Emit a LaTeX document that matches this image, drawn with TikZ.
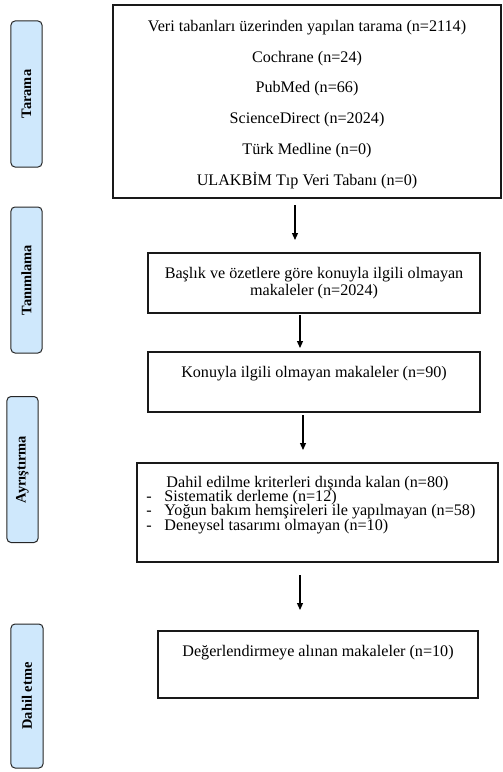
\documentclass[tikz,border=0pt]{standalone}
\usepackage{fontspec}
\setmainfont{Liberation Serif}
\usepackage{xcolor}
\usepackage{tikz}
\usetikzlibrary{positioning,arrows.meta}

\definecolor{stagefill}{RGB}{207,232,252}
\newcommand\tightlines{\setlength{\lineskiplimit}{-20bp}}

\tikzset{
    stage/.style={draw=black!85, fill=stagefill, rounded corners=4bp, line width=1bp,
        rotate=90, minimum width=146bp, minimum height=31bp, inner sep=0pt,
        font=\fontsize{14.5}{16}\selectfont\bfseries},
    box/.style={draw=black!90, line width=1.5bp, inner sep=0pt},
    txt/.style={inner sep=0pt, font=\fontsize{16.2}{19}\selectfont},
    arr/.style={-{Triangle[length=7bp,width=6bp]}, line width=1.2bp}
}

\begin{document}
\begin{tikzpicture}[x=1bp, y=-1bp]
    \useasboundingbox (0,0) rectangle (503,772);

    % Stages
    \node[stage] (tarama) at (26.5,94) {Tarama};
    \node[stage] (tanimlama) at (26.5,280) {Tanımlama};
    \node[stage] (ayristirma) at (22.5,469.5) {Ayrıştırma};
    \node[stage, minimum height=32bp, minimum width=144bp] (dahil) at (27,696) {Dahil etme};

    % Boxes
    \node[box, minimum width=388bp, minimum height=193bp] (search) at (307,101.5) {};
    \node[txt, align=center, font=\fontsize{16.2}{31}\selectfont] (search-t)
        at ([yshift=-3bp]search.center)
        {Veri tabanları üzerinden yapılan tarama (n=2114)\\
         Cochrane (n=24)\\
         PubMed (n=66)\\
         ScienceDirect (n=2024)\\
         Türk Medline (n=0)\\
         ULAKBİM Tıp Veri Tabanı (n=0)};
    \node[box, txt, align=center, minimum width=332bp, minimum height=60bp,
        font=\fontsize{16.2}{17}\selectfont] (title) at (314,283)
        {Başlık ve özetlere göre konuyla ilgili olmayan\\makaleler (n=2024)};
    \node[box, minimum width=332bp, minimum height=60bp] (irrel) at (314,382) {};
    \node[txt, below=15bp of irrel.north] (irrel-t) {Konuyla ilgili olmayan makaleler (n=90)};
    \node[box, minimum width=361bp, minimum height=99bp] (excl) at (317.5,512.5) {};
    \node[txt, align=left, below right=14bp and 10bp of excl.north west,
        font={\fontsize{16.2}{14.2}\selectfont\tightlines}] (excl-t)
        {\hspace*{20bp}Dahil edilme kriterleri dışında kalan (n=80)\\
         \makebox[18bp][l]{-}Sistematik derleme (n=12)\\
         \makebox[18bp][l]{-}Yoğun bakım hemşireleri ile yapılmayan (n=58)\\
         \makebox[18bp][l]{-}Deneysel tasarımı olmayan (n=10)};
    \node[box, minimum width=320bp, minimum height=67bp] (eval) at (318,664.5) {};
    \node[txt, below=15bp of eval.north] (eval-t) {Değerlendirmeye alınan makaleler (n=10)};

    % Arrow ends
    \coordinate (a1) at (295,205);
    \coordinate (b1) at (295,240);
    \coordinate (a2) at (300,315);
    \coordinate (b2) at (300,348);
    \coordinate (a3) at (303,415);
    \coordinate (b3) at (303,450);
    \coordinate (a4) at (300,575);
    \coordinate (b4) at (300,610);

    % Arrows
    \draw[arr] (a1) -- (b1);
    \draw[arr] (a2) -- (b2);
    \draw[arr] (a3) -- (b3);
    \draw[arr] (a4) -- (b4);

\end{tikzpicture}
\end{document}
